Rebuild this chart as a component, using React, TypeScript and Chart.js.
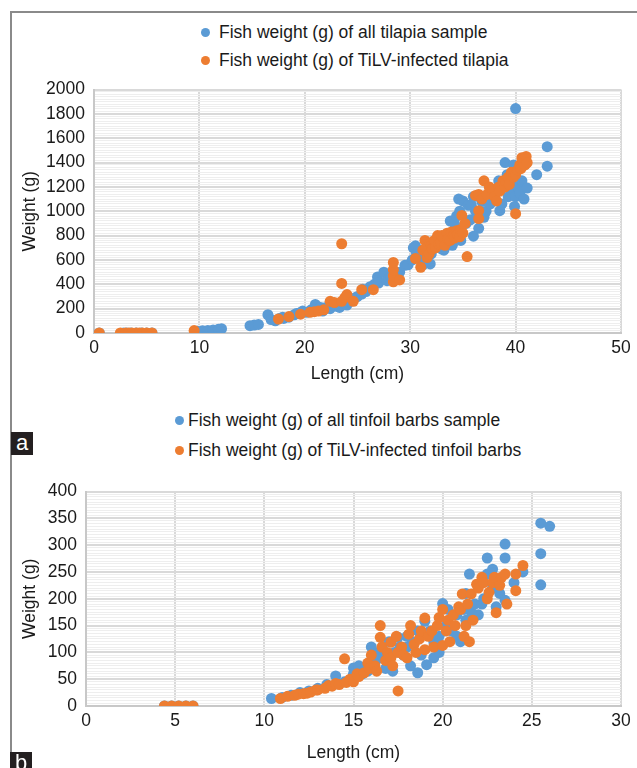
import React, { useEffect, useRef } from 'react';
import { Chart, registerables } from 'chart.js';

Chart.register(...registerables);

// ---------- Data: panel a (tilapia), [length cm, weight g] ----------
const tilapiaAll: [number, number][] = [
  [0.5, 0], [2.8, 0], [3.1, 0], [3.5, 0], [4, 0], [4.5, 0], [5, 0], [5.5, 0],
  [9.8, 15], [10.3, 18], [10.8, 20], [11.3, 25], [11.8, 30], [12.1, 35],
  [14.8, 60], [15.2, 65], [15.6, 70],
  [16.5, 150], [16.8, 110], [17.2, 100], [17.6, 120], [17.9, 130], [18, 120], [18.5, 130],
  [19, 150], [19.2, 160], [19.5, 165], [19.8, 180], [20.2, 170], [20.6, 190], [20.8, 180],
  [21, 235], [21.3, 200], [21.5, 210], [21.7, 180], [22, 210], [22.4, 200], [22.5, 230],
  [22.8, 240], [23, 220], [23.3, 210], [23.7, 250], [24, 230], [24.3, 260], [24.6, 280],
  [24.8, 290], [25, 300], [25.4, 320], [25.5, 360], [25.8, 340], [26.2, 380], [26.6, 400],
  [26.9, 460], [27, 410], [27.5, 500], [27.8, 430], [28, 450], [28.2, 460], [28.6, 470],
  [29, 500], [29.5, 556], [29.8, 560], [30.2, 600], [30.3, 700], [30.5, 716], [30.6, 650],
  [30.8, 680], [31, 620], [31.2, 560], [31.5, 650], [31.9, 567], [32, 650], [32.2, 700],
  [32.5, 760], [32.8, 720], [33, 690], [33.2, 680], [33.6, 740], [33.8, 920], [34, 780],
  [34, 720], [34.2, 900], [34.4, 960], [34.6, 1100], [34.7, 1000], [34.8, 760], [35, 1085],
  [35.3, 900], [35.5, 1050], [35.7, 930], [35.8, 1050], [36, 795], [36, 1120], [36.2, 1000],
  [36.5, 860], [36.8, 1080], [37, 950], [37.2, 1000], [37.5, 1150], [37.6, 1060],
  [37.9, 1130], [38, 1100], [38.2, 1180], [38.4, 1250], [38.5, 1005], [38.7, 1060],
  [38.8, 1200], [39, 1400], [39.2, 1300], [39.3, 1120], [39.5, 1180], [39.6, 1240],
  [39.8, 1380], [39.9, 1040], [40, 1843], [40, 1120], [40.2, 1200], [40.4, 1150],
  [40.6, 1250], [40.8, 1100], [41.1, 1190], [42, 1300], [43, 1530], [43, 1370],
];

const tilapiaInfected: [number, number][] = [
  [0.5, 0], [2.5, 0], [3, 0], [3.3, 0], [3.6, 0], [4, 0], [4.3, 0], [4.6, 0], [5, 0], [5.5, 0],
  [9.5, 20],
  [17.5, 115], [18.5, 135], [19.6, 155], [20.5, 170], [20.9, 175], [21.3, 180], [21.8, 190],
  [22.4, 260], [22.8, 250], [23.5, 733], [23.5, 407], [23.5, 260], [23.8, 290], [24, 316],
  [24.6, 260], [25.4, 356], [26.5, 356], [28.4, 420], [28.4, 470], [28.4, 520], [28.4, 580],
  [29, 436], [30.5, 612], [31, 540], [31.2, 680], [31.4, 760], [31.5, 700], [31.6, 620],
  [31.8, 650], [31.9, 740], [32, 720], [32.1, 690], [32.3, 760], [32.4, 700], [32.6, 800],
  [32.7, 730], [32.9, 740], [33, 800], [33.2, 780], [33.3, 720], [33.5, 820], [33.6, 770],
  [33.8, 760], [33.9, 830], [34.1, 800], [34.2, 780], [34.4, 840], [34.5, 810], [34.7, 790],
  [34.8, 850], [35, 820], [35.4, 628], [34.9, 966], [35.2, 900], [36.2, 1130], [36.5, 1005],
  [36.5, 940], [36.5, 1138], [36.8, 1100], [37, 1250], [37.3, 1138], [37.5, 1200],
  [37.8, 1180], [38, 1120], [38.2, 1085], [38.4, 1200], [38.5, 1165], [38.8, 1250],
  [39, 1200], [39.1, 1240], [39.3, 1280], [39.4, 1220], [39.6, 1320], [39.8, 1280],
  [40, 980], [40, 1300], [40.2, 1340], [40.4, 1380], [40.5, 1350], [40.6, 1440],
  [40.7, 1420], [40.9, 1380], [41, 1450], [41.1, 1400],
];

// ---------- Data: panel b (tinfoil barbs), [length cm, weight g] ----------
const barbsAll: [number, number][] = [
  [4.4, 0], [4.8, 0], [5.2, 0], [5.6, 0], [6, 0],
  [10.4, 14], [11, 16], [11.5, 20], [12, 25], [12.5, 28], [13, 33], [13.5, 40], [14, 56],
  [14.5, 45], [15, 71], [15, 55], [15, 60], [15.3, 75], [15.5, 60], [15.8, 65], [16, 110],
  [16, 70], [16.2, 80], [16.4, 100], [16.5, 90], [16.8, 70], [17, 85], [17, 120], [17.2, 65],
  [17.3, 100], [17.5, 128], [17.6, 110], [17.8, 95], [18, 110], [18, 130], [18.2, 75],
  [18.3, 120], [18.6, 62], [18.6, 140], [18.8, 95], [19, 158], [19.1, 77], [19.3, 140],
  [19.5, 120], [19.5, 90], [19.8, 130], [19.8, 100], [20, 191], [20.2, 150], [20.3, 180],
  [20.5, 140], [20.8, 170], [20.8, 130], [21, 120], [21.2, 180], [21.3, 160], [21.3, 210],
  [21.5, 246], [21.6, 175], [21.8, 190], [22, 170], [22.2, 190], [22.3, 200], [22.5, 276],
  [22.5, 246], [22.8, 220], [22.8, 255], [23, 185], [23.2, 210], [23.5, 302], [23.5, 276],
  [23.5, 197], [24, 230], [24.5, 250], [25.5, 341], [26, 335], [25.5, 284], [25.5, 226],
];

const barbsInfected: [number, number][] = [
  [4.4, 0], [4.8, 0], [5.2, 0], [5.6, 0], [6, 0],
  [10.9, 14], [11.3, 18], [11.7, 20], [11.9, 22], [12.2, 23], [12.4, 24], [12.6, 26],
  [12.9, 30], [13, 30], [13.4, 33], [13.6, 38], [13.8, 37], [14, 42], [14.2, 40], [14.5, 88],
  [14.6, 44], [14.8, 50], [15, 45], [15.2, 60], [15.3, 55], [15.6, 62], [15.8, 80],
  [15.9, 70], [16, 95], [16.2, 75], [16.3, 65], [16.5, 150], [16.5, 128], [16.6, 110],
  [16.8, 85], [16.9, 100], [17.1, 119], [17.1, 90], [17.2, 75], [17.4, 130], [17.5, 28],
  [17.5, 100], [17.7, 110], [17.8, 95], [18, 90], [18.1, 134], [18.2, 150], [18.4, 115],
  [18.5, 100], [18.7, 125], [18.8, 140], [19, 164], [19, 105], [19.2, 130], [19.4, 140],
  [19.5, 110], [19.7, 150], [19.8, 165], [20, 113], [20, 180], [20.2, 140], [20.3, 160],
  [20.4, 120], [20.6, 170], [20.7, 150], [20.9, 185], [21, 180], [21.1, 209], [21.2, 130],
  [21.3, 150], [21.4, 190], [21.5, 120], [21.6, 209], [21.7, 160], [21.9, 227], [22, 220],
  [22.2, 240], [22.3, 230], [22.5, 200], [22.6, 212], [22.8, 230], [22.9, 240], [23, 174],
  [23.2, 225], [23.3, 240], [23.5, 246], [23.6, 190], [24.1, 246], [24.1, 215], [24.5, 262],
];

const labelsA = ['Fish weight (g) of all tilapia sample', 'Fish weight (g) of TiLV-infected tilapia'];
const labelsB = ['Fish weight (g) of all tinfoil barbs sample', 'Fish weight (g) of TiLV-infected tinfoil barbs'];
const xTitle = 'Length (cm)';
const yTitle = 'Weight (g)';

const BLUE = '#5B9BD5';
const ORANGE = '#ED7D31';
const FONT = "'Liberation Sans', Arial, sans-serif";
const TEXT = '#1a1a1a';

type PanelProps = {
  top: number;
  height: number;
  all: [number, number][];
  infected: [number, number][];
  labels: string[];
  xMax: number;
  xStep: number;
  yMax: number;
  yMajor: number;
  yMinor: number;
  yAxisWidth: number;
  xAxisHeight: number;
  xTitlePad: number;
};

function Panel(p: PanelProps) {
  const ref = useRef<HTMLCanvasElement | null>(null);
  useEffect(() => {
    if (!ref.current) return;
    const font = { family: FONT, size: 17.5 };
    const chart = new Chart(ref.current, {
      type: 'scatter',
      data: {
        datasets: [
          {
            label: p.labels[1],
            data: p.infected.map(([x, y]) => ({ x, y })),
            backgroundColor: ORANGE,
            borderColor: ORANGE,
            borderWidth: 0,
            pointRadius: 5.5,
            pointHoverRadius: 5.5,
            order: 0,
          },
          {
            label: p.labels[0],
            data: p.all.map(([x, y]) => ({ x, y })),
            backgroundColor: BLUE,
            borderColor: BLUE,
            borderWidth: 0,
            pointRadius: 5.5,
            pointHoverRadius: 5.5,
            order: 1,
          },
        ],
      },
      options: {
        animation: false,
        responsive: false,
        maintainAspectRatio: false,
        layout: { padding: { left: 14, right: 16, top: 12, bottom: 0 } },
        plugins: { legend: { display: false }, tooltip: { enabled: false } },
        scales: {
          x: {
            type: 'linear',
            min: 0,
            max: p.xMax,
            ticks: { stepSize: p.xStep, padding: 5, color: TEXT, font, maxRotation: 0 },
            grid: { color: '#d9d9d9', lineWidth: 2, drawTicks: false },
            border: { color: '#c8c8c8', width: 2 },
            title: { display: true, text: xTitle, color: TEXT, font, padding: { top: 0, bottom: p.xTitlePad } },
            afterFit: (s: any) => { s.height = p.xAxisHeight; },
          },
          y: {
            type: 'linear',
            min: 0,
            max: p.yMax,
            ticks: {
              stepSize: p.yMinor,
              autoSkip: false,
              maxTicksLimit: 1000,
              padding: 9,
              color: TEXT,
              font,
              callback: (v: any) => (Math.round(v) % p.yMajor === 0 ? String(v) : ''),
            },
            grid: {
              color: (ctx: any) => (ctx.tick && Math.round(ctx.tick.value) % p.yMajor === 0 ? '#d9d9d9' : '#eeeeee'),
              lineWidth: (ctx: any) => (ctx.tick && Math.round(ctx.tick.value) % p.yMajor === 0 ? 2 : 1),
              drawTicks: false,
            },
            border: { color: '#c8c8c8', width: 2 },
            title: { display: true, text: yTitle, color: TEXT, font, padding: { top: 6, bottom: 0 } },
            afterFit: (s: any) => { s.width = p.yAxisWidth; },
          },
        },
      },
    } as any);
    return () => chart.destroy();
  }, []);
  return (
    <canvas
      ref={ref}
      width={637}
      height={p.height}
      style={{ position: 'absolute', left: 0, top: p.top, width: 637, height: p.height }}
    />
  );
}

function LegendRow(props: { cx: number; cy: number; textLeft: number; color: string; text: string }) {
  return (
    <>
      <div
        style={{
          position: 'absolute',
          left: props.cx - 4.5,
          top: props.cy - 4.5,
          width: 9,
          height: 9,
          borderRadius: '50%',
          background: props.color,
        }}
      />
      <div
        style={{
          position: 'absolute',
          left: props.textLeft,
          top: props.cy - 11,
          height: 22,
          lineHeight: '22px',
          fontFamily: FONT,
          fontSize: 17.5,
          color: TEXT,
          whiteSpace: 'nowrap',
        }}
      >
        {props.text}
      </div>
    </>
  );
}

function Tag(props: { left: number; top: number; text: string }) {
  return (
    <div
      style={{
        position: 'absolute',
        left: props.left,
        top: props.top,
        width: 22,
        height: 23,
        background: '#231f20',
        color: '#fff',
        fontFamily: FONT,
        fontSize: 22,
        lineHeight: '22px',
        textAlign: 'center',
      }}
    >
      {props.text}
    </div>
  );
}

export default function App() {
  return (
    <div
      style={{
        position: 'absolute',
        left: 0,
        top: 0,
        width: 637,
        height: 768,
        overflow: 'hidden',
        background: '#fff',
      }}
    >
      <div
        style={{
          position: 'absolute',
          left: 10,
          top: 11,
          width: 700,
          height: 900,
          borderLeft: '2px solid #8a8a8a',
          borderTop: '2px solid #8a8a8a',
        }}
      />
      <LegendRow cx={205} cy={32} textLeft={219} color={BLUE} text={labelsA[0]} />
      <LegendRow cx={205} cy={60} textLeft={219} color={ORANGE} text={labelsA[1]} />
      <Panel
        top={70}
        height={320}
        all={tilapiaAll}
        infected={tilapiaInfected}
        labels={labelsA}
        xMax={50}
        xStep={10}
        yMax={2000}
        yMajor={200}
        yMinor={20}
        yAxisWidth={80}
        xAxisHeight={57}
        xTitlePad={5}
      />
      <Tag left={11} top={432} text="a" />
      <LegendRow cx={179} cy={420} textLeft={188} color={BLUE} text={labelsB[0]} />
      <LegendRow cx={179} cy={450} textLeft={188} color={ORANGE} text={labelsB[1]} />
      <Panel
        top={472}
        height={296}
        all={barbsAll}
        infected={barbsInfected}
        labels={labelsB}
        xMax={30}
        xStep={5}
        yMax={400}
        yMajor={50}
        yMinor={5}
        yAxisWidth={72}
        xAxisHeight={62}
        xTitlePad={4}
      />
      <Tag left={10} top={752} text="b" />
    </div>
  );
}
